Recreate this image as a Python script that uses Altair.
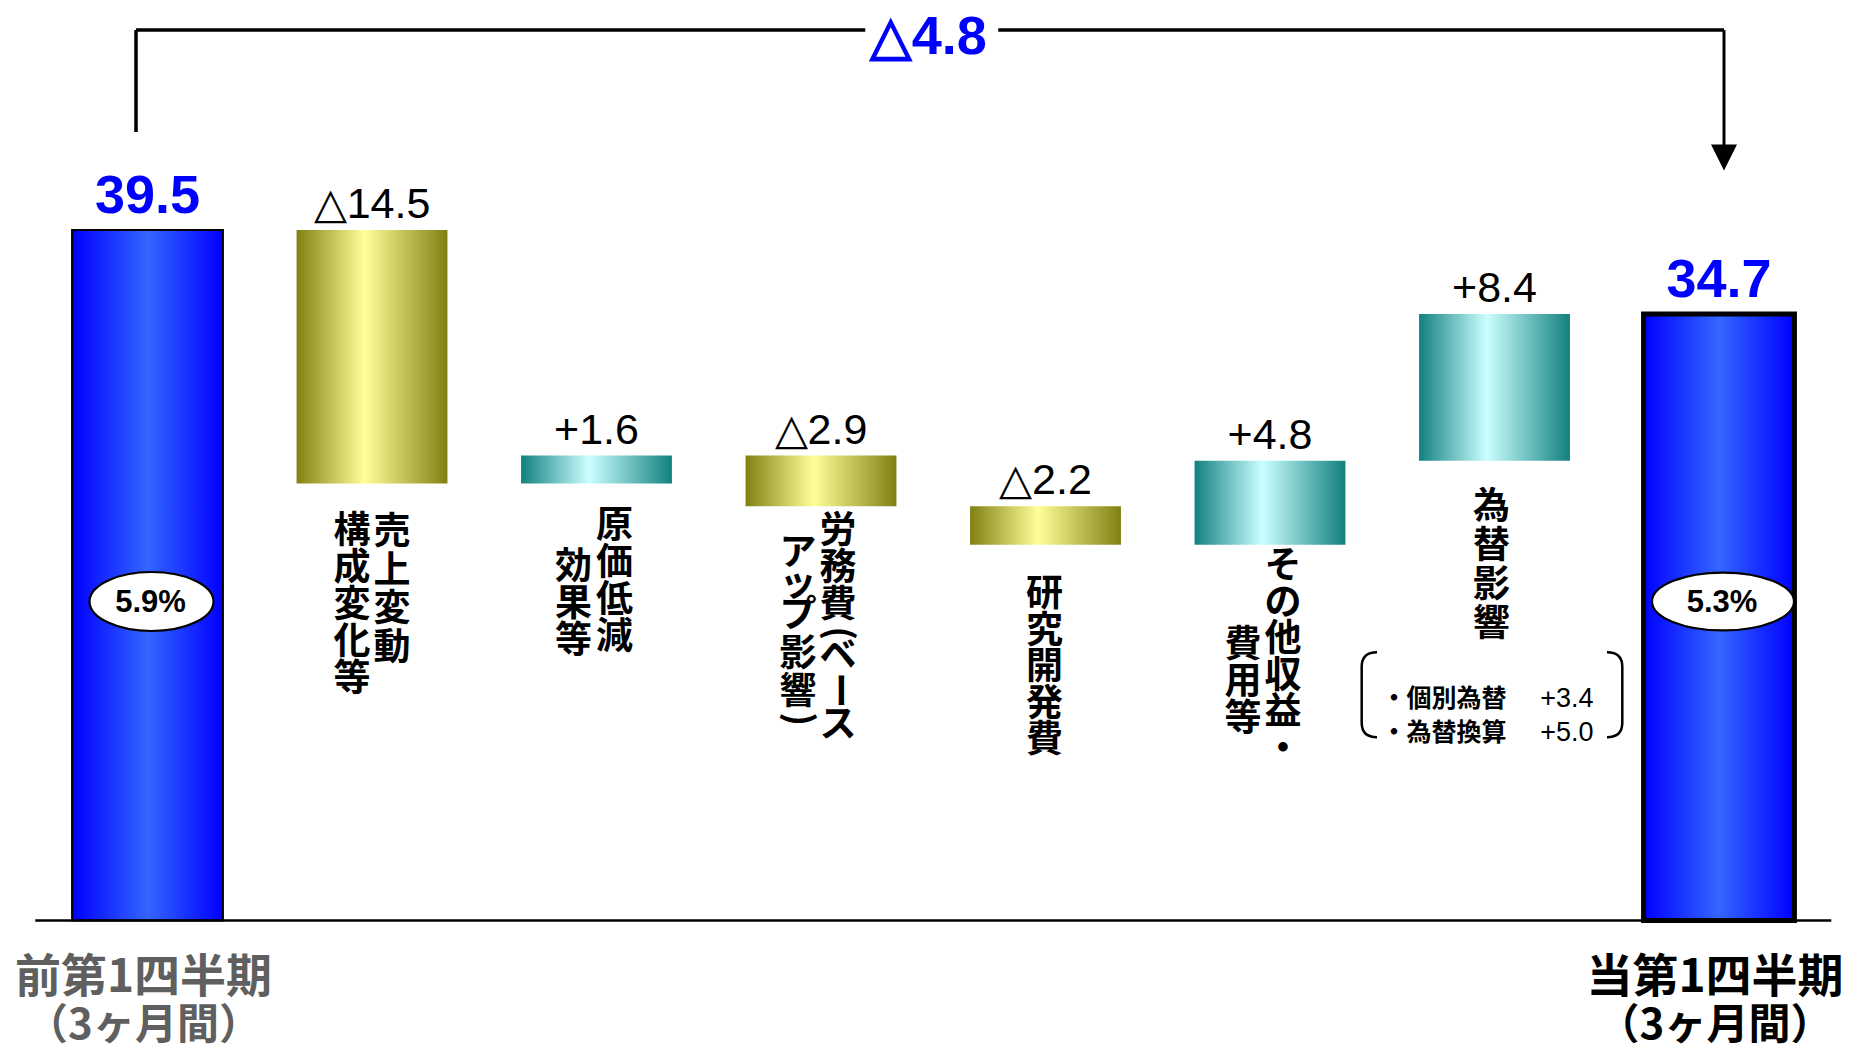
import altair as alt
import pandas as pd

# ---------------- data ----------------
categories = ["前第1四半期", "売上変動・構成変化等", "原価低減効果等", "労務費（ベースアップ影響）",
              "研究開発費", "その他収益・費用等", "為替影響", "当第1四半期"]
start_total = 39.5
end_total = 34.7
changes = [-14.5, 1.6, -2.9, -2.2, 4.8, 8.4]
overall_change = -4.8
margin_labels = ["5.9%", "5.3%"]
start_caption = ["前第1四半期", "（3ヶ月間）"]
end_caption = ["当第1四半期", "（3ヶ月間）"]
# vertical (tategaki) labels of the change bars: columns right-to-left,
# each column split into segments ("(", ")" and "ー" are drawn turned, as in vertical writing)
label_columns = [
    [["売上変動"], ["構成変化等"]],
    [["原価低減"], ["効果等"]],
    [["労務費", "(", "ベ", "ー", "ス"], ["アップ", "影響", ")"]],
    [["研究開発費"]],
    [["その他収益・"], ["費用等"]],
    [["為替影響"]],
]
fx_items = ["・個別為替", "・為替換算"]
fx_values = [3.4, 5.0]

# ---------------- layout / style ----------------
W, H = 1836, 1042
PX = 17.48            # pixels per unit
BASE_Y = 912.5        # pixel row of the zero line
STEP = 224.5          # pixels between bar centres
X0 = 139.5            # pixel column of first bar centre
XMIN, XMAX = -X0 / STEP, (W - X0) / STEP
YMIN, YMAX = -(H - BASE_Y) / PX, BASE_Y / PX
HALF = 0.336

NUM = "Liberation Sans, Arial, sans-serif"
JP = "Noto Sans CJK JP"
BLUE = "#0000ff"

XS = alt.Scale(domain=[XMIN, XMAX], nice=False, zero=False)
YS = alt.Scale(domain=[YMIN, YMAX], nice=False, zero=False)


def X(f):
    return alt.X(f, type="quantitative", scale=XS, axis=None)


def Y(f):
    return alt.Y(f, type="quantitative", scale=YS, axis=None)


def grad(edge, centre, mid=0.5):
    return alt.LinearGradient(
        gradient="linear", x1=0, x2=1, y1=0, y2=0,
        stops=[alt.GradientStop(color=edge, offset=0),
               alt.GradientStop(color=centre, offset=mid),
               alt.GradientStop(color=edge, offset=1)])


# ---------------- tables ----------------
rows = [dict(idx=0, low=0.0, high=start_total, kind="total", label=f"{start_total:.1f}")]
level = start_total
for i, c in enumerate(changes):
    new = round(level + c, 1)
    rows.append(dict(idx=i + 1, low=min(level, new), high=max(level, new),
                     kind="down" if c < 0 else "up",
                     label=("△" if c < 0 else "+") + f"{abs(c):.1f}"))
    level = new
last = len(categories) - 1
rows.append(dict(idx=last, low=0.0, high=end_total, kind="total", label=f"{end_total:.1f}"))
bars = pd.DataFrame(rows)
bars["cat"] = categories

seg_rows = []
for i, cols in enumerate(label_columns):
    for c, segs in enumerate(cols):
        for s, txt in enumerate(segs):
            seg_rows.append(dict(idx=i + 1, col=c, seg=s, text="\n".join(txt),
                                 low=bars.loc[i + 1, "low"]))
seg_df = pd.DataFrame(seg_rows)

margin_df = pd.DataFrame(dict(idx=[0, last], label=margin_labels, base=[0.0, 0.0]))
cap_df = pd.DataFrame(dict(idx=[0, last], line1=[start_caption[0], end_caption[0]],
                           line2=[start_caption[1], end_caption[1]], base=[0.0, 0.0]))
fx_idx = 6
fx_df = pd.DataFrame(dict(idx=[fx_idx], low=[bars.loc[fx_idx, "low"]],
                          items=["\n".join(fx_items)],
                          vals=["\n".join(f"+{v:.1f}" for v in fx_values)]))
base_df = pd.DataFrame(dict(x0=[-0.5], x1=[last + 0.5], y=[0.0]))
top_df = pd.DataFrame(dict(xs=[0], xe=[last], ys=[start_total], ye=[end_total],
                           ytop=[max(start_total, end_total)], xmid=[last / 2],
                           label=[("△" if overall_change < 0 else "+") + f"{abs(overall_change):.1f}"]))

layers = []

# bars
bar_base = alt.Chart(bars).transform_calculate(x0=f"datum.idx - {HALF}", x1=f"datum.idx + {HALF}")
layers.append(bar_base.transform_filter("datum.kind == 'total'").mark_bar(
    fill=grad("#0000ff", "#3366ff"), stroke="black").encode(
    x=X("x0:Q"), x2="x1:Q", y=Y("low:Q"), y2="high:Q",
    strokeWidth=alt.condition(f"datum.idx == {last}", alt.value(5), alt.value(2))))
layers.append(bar_base.transform_filter("datum.kind == 'down'").mark_bar(
    fill=grad("#808012", "#ffff99", 0.45)).encode(
    x=X("x0:Q"), x2="x1:Q", y=Y("low:Q"), y2="high:Q"))
layers.append(bar_base.transform_filter("datum.kind == 'up'").mark_bar(
    fill=grad("#128080", "#ccffff", 0.45)).encode(
    x=X("x0:Q"), x2="x1:Q", y=Y("low:Q"), y2="high:Q"))

# zero line
layers.append(alt.Chart(base_df).mark_rule(color="black", strokeWidth=2.5).encode(
    x=X("x0:Q"), x2="x1:Q", y=Y("y:Q")))

# value labels
layers.append(alt.Chart(bars).transform_filter("datum.kind == 'total'").mark_text(
    font=NUM, fontWeight="bold", fontSize=54, color=BLUE, baseline="alphabetic", dy=-17).encode(
    x=X("idx:Q"), y=Y("high:Q"), text="label:N"))
layers.append(alt.Chart(bars).transform_filter("datum.kind != 'total'").mark_text(
    font=NUM, fontSize=43, color="black", baseline="alphabetic", dy=-12).encode(
    x=X("idx:Q"), y=Y("high:Q"), text="label:N"))

# vertical labels: (idx, col, seg) -> (dx, gap below bar bottom, line height);
# line height 0 = glyph turned by 90 degrees, gap then gives its centre
seg_layout = {
    (1, 0, 0): (20, 30, 38.5), (1, 1, 0): (-20, 29, 37),
    (2, 0, 0): (18, 24, 37), (2, 1, 0): (-23, 65, 37),
    (3, 0, 0): (17, 6, 37), (3, 0, 1): (17, 127, 0), (3, 0, 2): (17, 131, 35),
    (3, 0, 3): (17, 184, 0), (3, 0, 4): (17, 200, 35),
    (3, 1, 0): (-23, 28, 31), (3, 1, 1): (-23, 129, 38), (3, 1, 2): (-23, 213, 0),
    (4, 0, 0): (-1, 31, 36.5),
    (5, 0, 0): (13, 3, 36.5), (5, 1, 0): (-27, 82, 37),
    (6, 0, 0): (-3, 28, 39),
}
for (i, c, s), (dx, gap, lh) in seg_layout.items():
    base = alt.Chart(seg_df).transform_filter(
        f"datum.idx == {i} && datum.col == {c} && datum.seg == {s}")
    if lh:
        mk = base.mark_text(font=JP, fontWeight="bold", fontSize=37, color="black", lineBreak="\n",
                            lineHeight=lh, baseline="top", align="center", dx=dx, dy=gap + 1.5)
    else:
        # offsets of a turned text are given in its own (turned) frame
        mk = base.mark_text(font=JP, fontWeight="bold", fontSize=36, color="black", angle=90,
                            baseline="middle", align="center", dx=gap, dy=-dx)
    layers.append(mk.encode(x=X("idx:Q"), y=Y("low:Q"), text="text:N"))

# margin ellipses


def ellipse(ry):
    return f"M-1,0A1,{ry} 0 1 1 1,0A1,{ry} 0 1 1 -1,0Z"


layers.append(alt.Chart(margin_df).mark_point(
    filled=True, fill="white", stroke="black", strokeWidth=2.2, opacity=1,
    xOffset=4, yOffset=-319).encode(
    x=X("idx:Q"), y=Y("base:Q"),
    shape=alt.condition("datum.idx == 0", alt.value(ellipse(0.476)), alt.value(ellipse(0.408))),
    size=alt.condition("datum.idx == 0", alt.value(124 ** 2), alt.value(142 ** 2))))
layers.append(alt.Chart(margin_df).mark_text(
    font=NUM, fontWeight="bold", fontSize=31, color="black", baseline="middle", dx=3, dy=-318).encode(
    x=X("idx:Q"), y=Y("base:Q"), text="label:N"))

# FX breakdown box
layers.append(alt.Chart(fx_df).mark_text(
    font=JP, fontWeight="bold", fontSize=25, color="black", lineBreak="\n", lineHeight=34,
    baseline="middle", align="left", dx=-113, dy=238).encode(
    x=X("idx:Q"), y=Y("low:Q"), text="items:N"))
layers.append(alt.Chart(fx_df).mark_text(
    font=NUM, fontSize=27, color="black", lineBreak="\n", lineHeight=34,
    baseline="middle", align="right", dx=99, dy=238).encode(
    x=X("idx:Q"), y=Y("low:Q"), text="vals:N"))
left_br = "M0.2,-1Q-0.16,-1 -0.16,-0.66L-0.16,0.66Q-0.16,1 0.2,1"
right_br = "M-0.2,-1Q0.16,-1 0.16,-0.66L0.16,0.66Q0.16,1 -0.2,1"
for shp, off in ((left_br, -126), (right_br, 121)):
    layers.append(alt.Chart(fx_df).mark_point(
        shape=shp, size=85 ** 2, filled=False, stroke="black", strokeWidth=2.5, opacity=1,
        xOffset=off, yOffset=234).encode(x=X("idx:Q"), y=Y("low:Q")))

# captions under first / last bar
cap_color = alt.condition("datum.idx == 0", alt.value("#5f5f5f"), alt.value("black"))
layers.append(alt.Chart(cap_df).mark_text(
    font=JP, fontWeight="bold", fontSize=46, baseline="top", align="center", dx=-4, dy=35).encode(
    x=X("idx:Q"), y=Y("base:Q"), text="line1:N", color=cap_color))
layers.append(alt.Chart(cap_df).mark_text(
    font=JP, fontWeight="bold", fontSize=42, baseline="top", align="center", dx=-4, dy=85).encode(
    x=X("idx:Q"), y=Y("base:Q"), text="line2:N", color=cap_color))

# overall change bracket
LW = 3.5
layers.append(alt.Chart(top_df).mark_rule(color="black", strokeWidth=LW, xOffset=-11.5,
                                          yOffset=-98, y2Offset=-200).encode(
    x=X("xs:Q"), y=Y("ys:Q"), y2="ytop:Q"))
layers.append(alt.Chart(top_df).mark_rule(color="black", strokeWidth=LW, xOffset=-11.5, x2Offset=5,
                                          yOffset=-200).encode(
    x=X("xs:Q"), x2="xe:Q", y=Y("ytop:Q")))
layers.append(alt.Chart(top_df).mark_rule(color="black", strokeWidth=3, xOffset=5,
                                          yOffset=-200, y2Offset=-165).encode(
    x=X("xe:Q"), y=Y("ytop:Q"), y2="ye:Q"))
layers.append(alt.Chart(top_df).mark_point(
    shape="M-1,-1L1,-1L0,1Z", size=26 ** 2, filled=True, fill="black", strokeWidth=0, opacity=1,
    xOffset=5, yOffset=-156.5).encode(x=X("xe:Q"), y=Y("ye:Q")))
layers.append(alt.Chart(top_df).mark_point(
    shape="M-1,-0.25L1,-0.25L1,0.25L-1,0.25Z", size=133 ** 2, filled=True, fill="white",
    strokeWidth=0, opacity=1, xOffset=-1.5, yOffset=-200).encode(x=X("xmid:Q"), y=Y("ytop:Q")))
layers.append(alt.Chart(top_df).mark_text(
    font=NUM, fontWeight="bold", fontSize=54, color=BLUE, baseline="alphabetic", dx=-5, dy=-176).encode(
    x=X("xmid:Q"), y=Y("ytop:Q"), text="label:N"))

chart = alt.layer(*layers).properties(
    width=W, height=H, padding=0, background="white",
    autosize=alt.AutoSizeParams(type="none"),
).configure_view(strokeWidth=0)

chart.save("out.html", embed_options={"renderer": "svg", "actions": False})
